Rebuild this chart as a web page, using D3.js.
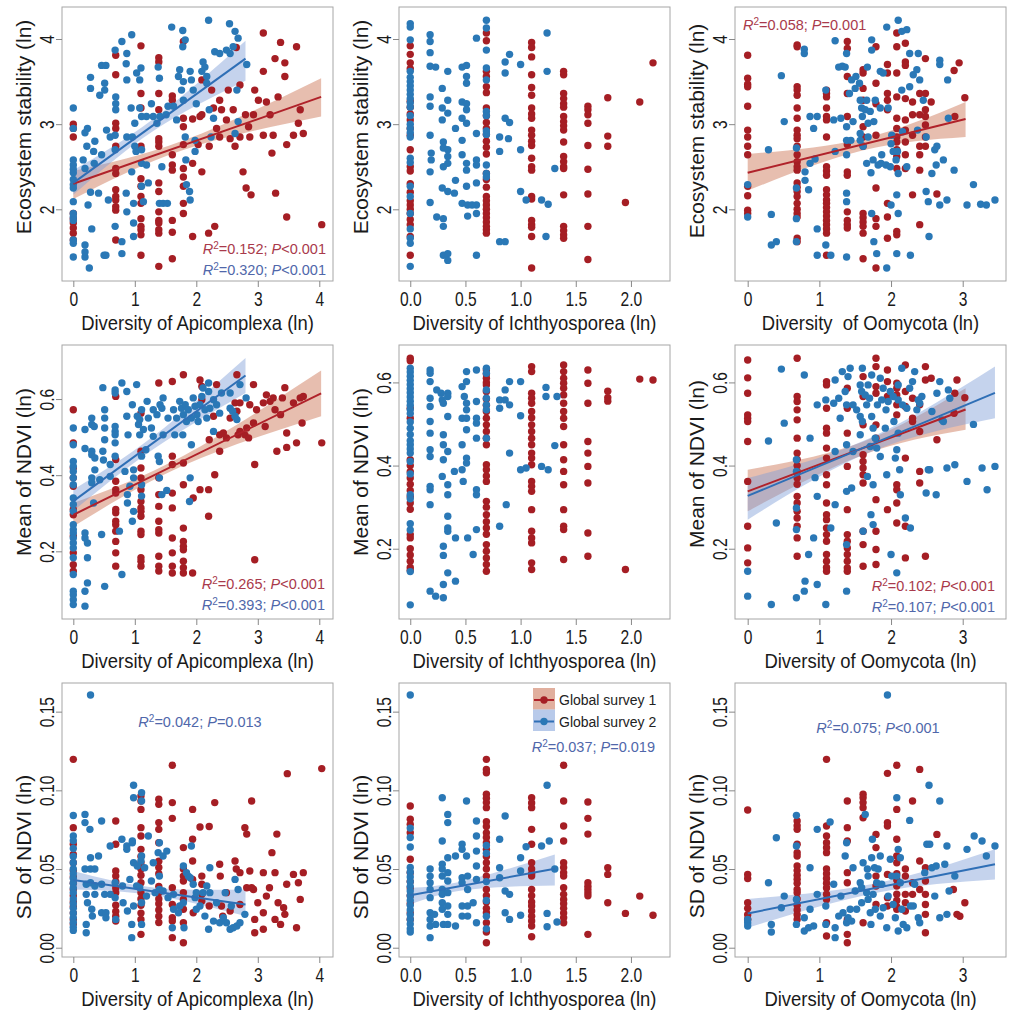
<!DOCTYPE html>
<html>
<head>
<meta charset="utf-8">
<script src="https://cdn.jsdelivr.net/npm/d3@7"></script>
<style>
  body { margin: 0; background: #fff; }
  text { font-family: "Liberation Sans", Arial, sans-serif; }
</style>
</head>
<body>
<svg id="chart" width="1024" height="1014"></svg>
<script>
// ---- values ----
// gs1 = Global survey 1 (red), gs2 = Global survey 2 (blue)
// entries are [x, y] or [x, [y, y, ...]] for points stacked at one x

const seriesNames = ['Global survey 1', 'Global survey 2'];

const xTicksApi = [0, 1, 2, 3, 4];
const xTicksIch = [0, 0.5, 1, 1.5, 2];
const xTicksOom = [0, 1, 2, 3];
const yTicksStab = [2, 3, 4];
const yTicksMean = [0.2, 0.4, 0.6];
const yTicksSd = [0, 0.05, 0.1, 0.15];

const xTitles = ['Diversity of Apicomplexa (ln)', 'Diversity of Ichthyosporea (ln)', 'Diversity\u00a0 of Oomycota (ln)'];
const xTitlesLower = ['Diversity of Apicomplexa (ln)', 'Diversity of Ichthyosporea (ln)', 'Diversity of Oomycota (ln)'];
const yTitles = ['Ecosystem stability (ln)', 'Mean of NDVI (ln)', 'SD of NDVI (ln)'];

// row 1: ecosystem stability
const gs1_stab_api = [[0,[3.0,2.95,2.85,1.95,1.89,1.84,1.78,1.72,1.64]],
  [0.69,[3.81,3.58,3.01,2.95,2.74,2.48,2.42,2.23,2.15,2.11,2.03,1.99,1.64]],
  [1.1,[3.92,3.36,3.19,2.74,2.36,2.27,2.15,2.07,1.89,1.8,1.76,1.7,1.46]],
  [1.39,[3.78,3.73,3.36,3.17,2.83,2.79,2.74,2.31,2.21,1.97,1.87,1.84,1.76,1.72,1.33]],
  [1.61,[3.33,3.28,2.64,2.52,2.46,1.87,1.73,1.42]],
  [1.79,[3.97,3.07,2.97,2.76,2.48,2.38,2.27,2.07,1.95]],
  [1.94,3.06],[1.94,2.54],[1.94,1.68],[2.03,2.76],[2.06,3.09],[2.09,2.44],[2.09,3.52],[2.2,1.72],[2.21,2.74],[2.09,3.11],
  [2.25,3.4],[2.28,3.19],[2.3,1.8],[2.33,2.95],[2.38,3.28],[2.38,2.85],[2.41,3.17],[2.49,3.05],[2.52,3.4],[2.55,2.83],
  [2.6,3.17],[2.63,2.74],[2.65,3.9],[2.71,3.46],[2.71,2.85],[2.76,2.44],[2.8,3.11],[2.81,2.25],[2.85,2.97],[2.87,2.85],
  [2.89,2.17],[2.93,3.11],[2.95,3.4],[3.01,3.28],[3.09,4.07],[3.09,3.62],[3.09,2.87],[3.14,3.26],[3.2,3.11],[3.23,2.66],
  [3.25,2.87],[3.28,3.77],[3.29,2.19],[3.33,3.32],[3.37,3.96],[3.44,3.72],[3.44,3.56],[3.47,2.76],[3.47,1.91],[3.58,2.87],
  [3.63,3.91],[3.66,3.01],[3.69,3.17],[3.74,2.89],[4.04,1.82]];
const gs2_stab_api = [[0,[3.19,2.95,2.58,2.52,2.47,2.43,2.35,2.29,2.25,2.09,1.95,1.91,1.87,1.64,1.6,1.44]],
  [0.19,1.44],[0.19,1.5],[0.19,1.58],[0.16,2.58],[0.19,2.48],[0.22,2.74],[0.23,2.95],[0.19,2.9],[0.24,2.05],[0.26,1.31],
  [0.3,1.77],[0.28,2.2],[0.28,3.42],[0.28,3.55],[0.33,2.68],[0.34,2.54],[0.35,2.8],[0.41,2.19],[0.43,3.34],[0.46,2.64],
  [0.46,3.69],[0.53,3.69],[0.51,3.48],[0.51,3.4],[0.5,1.46],[0.53,1.46],[0.54,2.93],[0.57,2.11],[0.6,2.85],[0.68,3.87],
  [0.69,3.32],[0.69,3.24],[0.69,3.17],[0.68,2.7],[0.68,2.87],[0.68,1.8],[0.79,3.97],[0.79,1.62],[0.79,1.48],[0.86,3.71],
  [0.87,3.83],[0.87,2.85],[0.86,2.19],[0.87,1.97],[0.87,3.52],[0.94,3.19],[0.95,4.05],[0.96,2.85],[0.95,2.44],[0.98,2.07],
  [0.98,1.84],[0.98,1.68],[1.0,3.01],[1.0,2.74],[1.02,2.68],[1.03,3.6],[1.08,3.19],[1.08,3.52],[1.1,3.66],[1.11,3.09],
  [1.11,2.7],[1.11,2.54],[1.11,2.27],[1.14,2.09],[1.19,3.09],[1.22,2.31],[1.19,2.52],[1.27,3.24],[1.3,3.09],[1.36,3.01],
  [1.38,3.67],[1.4,3.54],[1.4,2.07],[1.41,3.09],[1.44,2.5],[1.46,2.07],[1.51,3.11],[1.53,2.07],[1.54,3.21],[1.6,4.14],
  [1.63,3.21],[1.68,3.05],[1.71,3.56],[1.73,3.64],[1.78,4.1],[1.78,3.91],[1.82,3.99],[1.79,3.5],[1.76,3.4],[1.79,3.28],
  [1.82,2.85],[1.83,2.58],[1.84,2.29],[1.89,2.21],[1.9,2.11],[1.9,3.62],[1.92,3.52],[1.95,3.4],[1.98,2.68],[1.98,2.81],
  [2.0,3.24],[2.09,3.62],[2.11,3.73],[2.14,3.67],[2.17,3.56],[2.17,3.48],[2.2,4.22],[2.21,3.17],[2.28,3.07],[2.3,3.85],
  [2.38,3.83],[2.49,3.87],[2.55,3.83],[2.54,4.18],[2.6,3.91],[2.63,4.09],[2.68,4.01],[2.66,3.4],[2.63,2.89],[2.68,3.03],
  [2.82,3.7],[2.24,2.85]];

const gs1_stab_ich = [[0,[3.92,3.82,3.72,3.65,3.27,3.2,3.12,3.05,2.95,2.87,2.7,2.5,2.45,2.3,2.2,2.1,2.05,2.0,1.95,1.88,1.82,1.68,1.46]],
  [0.69,[4.07,3.98,3.62,3.56,3.44,3.37,3.19,3.1,3.02,2.95,2.88,2.8,2.73,2.65,2.42,2.35,2.26,2.15,2.1,2.05,2.0,1.95,1.9,1.85,1.8,1.76,1.72]],
  [1.1,[3.96,3.9,3.79,3.58,3.43,3.34,3.19,3.12,3.07,2.93,2.87,2.8,2.75,2.6,2.5,2.46,2.15,2.12,1.87,1.82,1.79,1.68,1.31]],
  [1.39,[3.62,3.58,3.36,3.3,3.24,3.2,3.09,3.03,2.98,2.93,2.79,2.62,2.56,2.5,2.48,2.17,1.8,1.75,1.7,1.66]],
  [1.61,[3.21,3.17,3.11,3.01,2.75,2.47,2.18,1.8,1.41]],
  [1.79,[3.31,2.86,2.74]],[1.95,2.08],[2.08,3.26],[2.2,3.72]];
const gs2_stab_ich = [[0,[4.18,4.14,3.99,3.62,3.55,3.5,3.45,3.4,3.35,3.3,3.25,3.2,3.1,3.0,2.95,2.9,2.85,2.6,2.55,2.27,2.15,1.95,1.77,1.66,1.6,1.33]],
  [0.69,[4.22,4.13,3.87,3.66,3.52,3.15,3.1,2.92,2.88,2.52,2.42,2.38]],
  [0.18,4.05],[0.18,3.97],[0.18,3.84],[0.18,3.68],[0.23,3.67],[0.18,3.32],[0.18,3.21],[0.18,2.87],[0.19,2.66],[0.19,2.58],
  [0.18,2.44],[0.18,2.08],[0.24,1.91],[0.29,3.42],[0.29,3.19],[0.29,3.05],[0.3,2.79],[0.3,2.72],[0.3,2.5],[0.29,2.25],
  [0.3,1.89],[0.3,1.8],[0.3,1.46],[0.34,1.48],[0.34,3.62],[0.34,3.28],[0.34,3.13],[0.34,2.7],[0.34,2.62],[0.34,2.54],
  [0.34,2.21],[0.34,1.4],[0.4,2.19],[0.41,2.95],[0.41,2.34],[0.47,3.67],[0.47,3.26],[0.47,3.07],[0.47,2.81],[0.47,2.64],
  [0.47,2.07],[0.51,3.69],[0.51,3.56],[0.51,3.48],[0.51,3.24],[0.51,3.17],[0.51,3.01],[0.51,2.54],[0.51,2.46],[0.51,2.27],
  [0.52,2.05],[0.52,1.92],[0.6,4.01],[0.6,2.89],[0.6,2.58],[0.6,2.52],[0.6,2.31],[0.6,2.05],[0.6,1.95],[0.6,1.46],
  [0.56,2.05],[0.81,2.85],[0.81,2.68],[0.81,1.62],[0.86,1.62],[0.86,3.73],[0.86,3.6],[0.86,3.07],[0.9,3.82],[0.9,3.02],
  [0.89,2.83],[1.0,3.7],[1.0,2.7],[1.0,2.21],[1.05,2.11],[1.19,2.11],[1.24,3.62],[1.24,4.07],[1.25,2.06],[1.23,1.68],[1.31,2.48]];

const gs1_stab_oom = [[0,[3.81,3.54,3.47,3.44,3.21,2.93,2.85,2.74,2.64,2.27,2.16,1.99,1.95]],
  [0.69,[3.93,3.91,3.44,3.4,3.34,3.19,3.07,2.93,2.87,2.83,2.74,2.64,2.56,2.5,2.46,2.31,2.26,2.21,2.15,2.07,2.0,1.95,1.91,1.66,1.62]],
  [1.1,[3.4,3.36,3.32,3.19,3.09,3.05,2.85,2.5,2.45,2.4,2.23,2.17,2.11,2.07,2.02,1.97,1.92,1.87,1.82,1.77,1.72,1.46]],
  [1.39,[3.97,3.89,3.56,3.36,3.09,2.76,2.44,2.4,1.97,1.87,1.82,1.78]],
  [1.61,[3.64,3.6,3.42,3.28,2.97,2.85,2.74,1.95,1.9,1.85,1.8,1.72,1.42]],
  [1.79,[3.91,3.48,3.24,2.87,2.25,1.89,1.8,1.31]],
  [1.95,[3.7,3.6,3.36,3.28,3.17,2.07,1.91,1.66]],
  [2.08,[4.07,3.91,3.6,3.32,3.07,2.95,2.85,2.79,2.7,2.62,2.48,1.74,1.7]],
  [2.2,[3.95,3.73,3.69,3.3,3.05,2.93,2.79,2.64,2.48]],
  [2.3,[3.26,3.11,2.87,2.17]],
  [2.4,[3.36,3.11,2.74,2.64,2.46,1.82]],
  [2.48,[3.77,3.36,3.17,3.09,2.99,2.85,2.74]],
  [2.56,3.26],[2.64,2.18],[2.88,3.63],[2.95,3.72],[2.89,3.09],[3.03,3.31]];
const gs2_stab_oom = [[0,2.29],[0,1.91],[0.29,2.7],[0.33,1.94],[0.33,1.58],[0.4,1.62],[0.47,3.57],[0.51,3.03],[0.68,2.72],[0.68,2.25],
  [0.68,1.89],[0.68,1.62],[0.79,3.88],[0.79,3.83],[0.8,2.44],[0.8,2.34],[0.85,2.23],[0.87,3.09],[0.87,2.54],[0.92,2.95],
  [0.94,2.59],[0.97,1.46],[0.97,1.77],[0.97,3.09],[1.09,3.4],[1.09,1.58],[1.16,1.46],[1.2,3.05],[1.22,3.98],[1.22,2.68],
  [1.27,3.67],[1.3,3.07],[1.32,3.68],[1.36,3.67],[1.38,3.83],[1.38,2.97],[1.38,2.81],[1.38,2.64],[1.38,2.19],[1.38,2.09],
  [1.38,1.44],[1.42,3.36],[1.44,2.81],[1.45,3.52],[1.47,3.03],[1.5,3.42],[1.51,3.56],[1.56,3.48],[1.57,3.28],[1.57,2.89],
  [1.57,2.81],[1.59,3.19],[1.6,3.09],[1.61,2.74],[1.64,3.17],[1.66,3.28],[1.66,2.54],[1.67,3.67],[1.68,3.01],[1.68,2.85],
  [1.71,3.15],[1.72,2.43],[1.73,3.99],[1.73,3.87],[1.73,1.95],[1.75,2.58],[1.76,3.03],[1.76,1.62],[1.78,3.28],[1.8,1.48],
  [1.82,2.52],[1.85,3.19],[1.85,3.62],[1.86,2.54],[1.89,3.6],[1.87,2.64],[1.93,2.52],[1.94,4.14],[1.94,1.31],[1.96,3.19],
  [1.99,2.5],[2.0,2.77],[2.0,2.05],[2.01,2.87],[2.03,2.68],[2.07,2.58],[2.08,2.17],[2.1,4.22],[2.09,2.68],[2.1,2.42],
  [2.1,1.95],[2.08,1.48],[2.15,4.09],[2.16,2.91],[2.15,3.4],[2.22,4.11],[2.22,2.5],[2.26,3.44],[2.26,3.83],[2.27,1.46],
  [2.31,3.58],[2.36,3.64],[2.38,3.83],[2.37,2.93],[2.4,3.52],[2.45,3.28],[2.49,2.85],[2.49,2.21],[2.52,2.09],[2.53,1.68],
  [2.57,2.42],[2.61,2.7],[2.63,2.52],[2.64,2.74],[2.68,2.05],[2.68,3.75],[2.68,3.7],[2.73,2.58],[2.78,2.11],[2.79,3.52],
  [2.8,3.07],[2.88,2.46],[3.06,2.05],[3.15,2.29],[3.25,2.06],[3.33,2.05],[3.45,2.11]];

// row 2: mean of NDVI
const gs1_mean_api = [[0,[0.572,0.485,0.419,0.393,0.371,0.31,0.296,0.24,0.196,0.165,0.148]],
  [0.69,[0.607,0.441,0.384,0.362,0.353,0.31,0.301,0.279,0.27,0.253,0.226,0.196,0.161]],
  [1.1,[0.563,0.463,0.419,0.393,0.362,0.331,0.314,0.305,0.292,0.253,0.244,0.183,0.174,0.161]],
  [1.39,[0.642,0.393,0.349,0.318,0.279,0.257,0.248,0.187,0.161,0.148]],
  [1.61,[0.646,0.45,0.428,0.353,0.314,0.235,0.196,0.161,0.143]],
  [1.79,[0.664,0.432,0.375,0.261,0.226,0.213,0.204,0.174,0.157,0.143]],
  [1.94,0.143],[1.95,0.34],[2.06,0.65],[2.09,0.633],[2.09,0.598],[2.06,0.362],[2.2,0.362],[2.2,0.292],[2.21,0.493],[2.28,0.555],
  [2.3,0.401],[2.33,0.638],[2.38,0.506],[2.38,0.463],[2.44,0.511],[2.49,0.498],[2.55,0.55],[2.63,0.59],[2.66,0.568],[2.68,0.506],
  [2.71,0.515],[2.71,0.59],[2.79,0.506],[2.82,0.524],[2.85,0.498],[2.87,0.585],[2.93,0.537],[2.93,0.638],[2.95,0.428],[2.95,0.178],
  [2.98,0.572],[3.12,0.528],[3.09,0.59],[3.14,0.611],[3.2,0.594],[3.25,0.603],[3.28,0.572],[3.31,0.463],[3.37,0.559],[3.4,0.603],
  [3.44,0.63],[3.47,0.511],[3.47,0.473],[3.58,0.59],[3.63,0.485],[3.69,0.603],[3.72,0.537],[3.74,0.607],[4.04,0.485],[2.66,0.664]];
const gs2_mean_api = [[0,[0.524,0.48,0.436,0.423,0.41,0.393,0.375,0.34,0.323,0.305,0.27,0.257,0.248,0.235,0.222,0.209,0.183,0.139,0.095,0.086,0.073,0.06]],
  [0.19,0.52],[0.19,0.47],[0.19,0.248],[0.19,0.235],[0.19,0.095],[0.19,0.056],[0.23,0.117],[0.23,0.222],[0.23,0.183],[0.3,0.55],
  [0.3,0.533],[0.3,0.463],[0.3,0.454],[0.3,0.393],[0.3,0.38],[0.33,0.327],[0.34,0.528],[0.35,0.445],[0.35,0.414],[0.43,0.388],
  [0.46,0.244],[0.48,0.63],[0.48,0.463],[0.49,0.44],[0.51,0.572],[0.51,0.55],[0.51,0.524],[0.51,0.493],[0.51,0.108],[0.6,0.428],
  [0.6,0.397],[0.68,0.624],[0.68,0.616],[0.68,0.528],[0.68,0.515],[0.68,0.506],[0.68,0.485],[0.68,0.45],[0.75,0.253],[0.79,0.642],
  [0.79,0.139],[0.84,0.41],[0.87,0.555],[0.87,0.62],[0.88,0.349],[0.88,0.327],[0.89,0.506],[0.92,0.371],[0.96,0.585],[0.98,0.414],
  [0.98,0.393],[0.98,0.305],[0.96,0.279],[1.03,0.638],[1.04,0.555],[1.06,0.533],[1.08,0.546],[1.08,0.506],[1.11,0.572],[1.11,0.45],
  [1.11,0.375],[1.11,0.345],[1.14,0.52],[1.18,0.467],[1.2,0.594],[1.22,0.55],[1.27,0.524],[1.3,0.572],[1.3,0.502],[1.36,0.559],
  [1.38,0.45],[1.4,0.436],[1.4,0.393],[1.41,0.585],[1.44,0.349],[1.44,0.576],[1.46,0.603],[1.46,0.506],[1.52,0.36],[1.54,0.55],
  [1.63,0.572],[1.65,0.506],[1.68,0.55],[1.73,0.594],[1.76,0.576],[1.78,0.506],[1.79,0.559],[1.82,0.585],[1.84,0.541],[1.87,0.572],
  [1.89,0.331],[1.9,0.393],[1.92,0.48],[1.92,0.55],[1.95,0.603],[1.98,0.581],[2.01,0.559],[2.03,0.541],[2.06,0.585],[2.09,0.607],
  [2.11,0.629],[2.14,0.572],[2.17,0.55],[2.2,0.62],[2.2,0.642],[2.22,0.576],[2.28,0.515],[2.28,0.598],[2.33,0.585],[2.38,0.563],
  [2.41,0.616],[2.55,0.616],[2.55,0.576],[2.59,0.568],[2.63,0.555],[2.66,0.546],[2.71,0.638],[2.81,0.603]];

const gs1_mean_ich = [[0,[0.658,0.652,0.538,0.514,0.414,0.4,0.385,0.37,0.355,0.34,0.325,0.31,0.295,0.234,0.226,0.2,0.185,0.17,0.155,0.148]],
  [0.69,[0.63,0.62,0.61,0.6,0.594,0.578,0.56,0.545,0.53,0.514,0.498,0.482,0.466,0.45,0.402,0.39,0.375,0.362,0.314,0.3,0.282,0.265,0.25,0.235,0.21,0.194,0.178,0.162,0.146]],
  [1.1,[0.638,0.626,0.574,0.562,0.55,0.53,0.515,0.498,0.482,0.466,0.45,0.43,0.418,0.402,0.362,0.35,0.338,0.294,0.242,0.226,0.214,0.166,0.15]],
  [1.39,[0.642,0.626,0.61,0.598,0.586,0.57,0.55,0.53,0.514,0.494,0.45,0.414,0.386,0.354,0.294,0.254,0.246,0.174]],
  [1.61,[0.63,0.598,0.55,0.458,0.43,0.398,0.358,0.238,0.182]],
  [1.79,[0.579,0.563,0.555]],[1.95,0.15],[2.08,0.608],[2.2,0.606]];
const gs2_mean_ich = [[0,[0.634,0.625,0.615,0.605,0.595,0.585,0.575,0.565,0.555,0.545,0.535,0.525,0.505,0.49,0.475,0.46,0.45,0.44,0.43,0.41,0.38,0.33,0.32,0.26,0.245,0.145,0.065]],
  [0.18,0.63],[0.18,0.622],[0.18,0.602],[0.18,0.562],[0.18,0.542],[0.18,0.506],[0.18,0.478],[0.18,0.438],[0.18,0.422],[0.18,0.35],
  [0.18,0.342],[0.18,0.306],[0.18,0.098],[0.23,0.086],[0.24,0.582],[0.28,0.574],[0.29,0.558],[0.3,0.55],[0.3,0.474],[0.3,0.45],
  [0.3,0.414],[0.29,0.374],[0.3,0.206],[0.3,0.184],[0.3,0.114],[0.3,0.082],[0.34,0.574],[0.34,0.566],[0.34,0.518],[0.34,0.434],
  [0.34,0.354],[0.34,0.33],[0.34,0.278],[0.34,0.25],[0.34,0.242],[0.34,0.142],[0.4,0.386],[0.41,0.226],[0.41,0.122],[0.47,0.59],
  [0.47,0.514],[0.47,0.45],[0.47,0.39],[0.48,0.362],[0.49,0.566],[0.51,0.626],[0.51,0.602],[0.51,0.55],[0.51,0.534],[0.51,0.514],
  [0.51,0.486],[0.51,0.418],[0.51,0.406],[0.52,0.226],[0.57,0.186],[0.6,0.514],[0.6,0.502],[0.6,0.554],[0.6,0.466],[0.6,0.63],
  [0.6,0.342],[0.6,0.33],[0.6,0.246],[0.69,0.634],[0.69,0.622],[0.69,0.582],[0.69,0.562],[0.69,0.546],[0.69,0.534],[0.69,0.466],
  [0.81,0.558],[0.81,0.538],[0.81,0.254],[0.86,0.558],[0.86,0.582],[0.87,0.306],[0.9,0.602],[0.9,0.546],[0.9,0.43],[1.0,0.602],
  [1.0,0.52],[1.0,0.39],[1.05,0.394],[1.19,0.398],[1.23,0.588],[1.23,0.566],[1.25,0.39],[1.31,0.448],[1.33,0.566]];

const gs1_mean_oom = [[0,[0.654,0.611,0.574,0.522,0.514,0.506,0.458,0.362,0.254,0.202,0.166]],
  [0.69,[0.658,0.566,0.554,0.534,0.51,0.466,0.43,0.415,0.4,0.386,0.37,0.355,0.326,0.31,0.29,0.274,0.254,0.226,0.182]],
  [1.1,[0.602,0.594,0.538,0.49,0.478,0.442,0.418,0.378,0.354,0.31,0.282,0.27,0.25,0.234,0.218,0.186,0.17,0.155,0.146]],
  [1.39,[0.586,0.538,0.478,0.398,0.294,0.234,0.218,0.202,0.186,0.17,0.154,0.146]],
  [1.61,[0.614,0.566,0.498,0.426,0.41,0.394,0.378,0.358,0.242,0.21,0.158]],
  [1.79,[0.658,0.638,0.59,0.574,0.498,0.466,0.318,0.242,0.198,0.162]],
  [1.95,[0.63,0.602,0.566,0.294]],
  [2.08,[0.598,0.586,0.57,0.546,0.522,0.354,0.342,0.31,0.262]],
  [2.2,[0.642,0.578,0.542,0.418,0.254,0.178]],
  [2.3,[0.562,0.514,0.506]],
  [2.4,[0.546,0.482,0.386,0.358]],
  [2.48,[0.638,0.606,0.182]],
  [2.56,0.61],[2.64,0.462],[2.88,0.526],[2.92,0.606],[3.03,0.563],[2.89,0.574]];
const gs2_mean_oom = [[0,0.146],[0,0.086],[0.29,0.459],[0.33,0.066],[0.4,0.262],[0.47,0.632],[0.51,0.502],[0.68,0.386],[0.68,0.414],[0.68,0.246],
  [0.68,0.298],[0.68,0.082],[0.79,0.618],[0.8,0.122],[0.79,0.098],[0.85,0.186],[0.87,0.466],[0.92,0.226],[0.94,0.371],[0.97,0.326],
  [0.97,0.114],[0.97,0.546],[1.09,0.066],[1.09,0.558],[1.16,0.25],[1.2,0.55],[1.22,0.306],[1.22,0.606],[1.22,0.434],[1.27,0.562],
  [1.29,0.514],[1.32,0.626],[1.36,0.578],[1.38,0.546],[1.38,0.45],[1.38,0.338],[1.38,0.21],[1.38,0.098],[1.4,0.614],[1.43,0.634],
  [1.45,0.346],[1.47,0.546],[1.47,0.434],[1.52,0.534],[1.57,0.594],[1.57,0.518],[1.57,0.474],[1.59,0.578],[1.6,0.634],[1.6,0.506],
  [1.61,0.242],[1.64,0.57],[1.66,0.546],[1.67,0.374],[1.68,0.594],[1.7,0.562],[1.71,0.446],[1.72,0.282],[1.73,0.618],[1.73,0.518],
  [1.75,0.49],[1.75,0.354],[1.75,0.258],[1.78,0.466],[1.8,0.442],[1.81,0.546],[1.85,0.61],[1.85,0.422],[1.87,0.558],[1.89,0.586],
  [1.92,0.49],[1.93,0.534],[1.94,0.378],[1.96,0.554],[1.99,0.578],[2.0,0.186],[2.03,0.566],[2.04,0.506],[2.06,0.418],[2.08,0.438],
  [2.08,0.142],[2.1,0.594],[2.1,0.558],[2.1,0.478],[2.12,0.39],[2.13,0.33],[2.15,0.634],[2.16,0.546],[2.2,0.274],[2.22,0.538],
  [2.26,0.586],[2.27,0.25],[2.3,0.602],[2.33,0.626],[2.36,0.534],[2.38,0.558],[2.4,0.55],[2.43,0.566],[2.49,0.334],[2.52,0.39],
  [2.54,0.39],[2.57,0.53],[2.64,0.574],[2.63,0.33],[2.68,0.602],[2.71,0.51],[2.73,0.506],[2.78,0.394],[2.8,0.582],[2.82,0.562],
  [2.89,0.402],[3.06,0.362],[3.15,0.499],[3.27,0.394],[3.34,0.342],[3.45,0.398]];

// row 3: SD of NDVI
const gs1_sd_api = [[0,[0.1197,0.0763,0.0657,0.0593,0.054,0.049,0.045,0.041,0.037,0.033,0.029,0.026,0.022,0.018,0.015]],
  [0.69,[0.0805,0.0657,0.0487,0.0455,0.042,0.038,0.035,0.027,0.023,0.02,0.017]],
  [1.1,[0.0964,0.0932,0.0879,0.0763,0.071,0.0625,0.058,0.054,0.05,0.046,0.0413,0.035,0.031,0.027,0.022,0.018,0.0085]],
  [1.39,[0.0943,0.0911,0.0795,0.0752,0.0667,0.055,0.051,0.047,0.039,0.035,0.031,0.028,0.024,0.02,0.016]],
  [1.61,[0.1159,0.0922,0.0822,0.0381,0.0275,0.019,0.017,0.0064]],
  [1.79,[0.0636,0.05,0.0455,0.0424,0.035,0.0307,0.0244,0.0159,0.0032]],
  [1.94,0.0879],[1.94,0.0689],[1.94,0.0551],[1.94,0.0434],[1.95,0.0222],[2.09,0.0455],[2.09,0.0403],[2.09,0.0339],[2.09,0.0297],
  [2.06,0.0767],[2.21,0.077],[2.21,0.0265],[2.3,0.0922],[2.38,0.053],[2.39,0.0455],[2.41,0.0265],[2.43,0.0201],[2.49,0.035],
  [2.55,0.0233],[2.63,0.0551],[2.65,0.05],[2.71,0.0477],[2.71,0.0275],[2.79,0.0763],[2.82,0.0722],[2.82,0.0381],[2.9,0.0932],
  [2.87,0.0487],[2.9,0.0381],[2.93,0.037],[2.95,0.018],[2.95,0.0095],[3.0,0.0286],[3.09,0.0477],[3.09,0.0222],[3.09,0.0117],
  [3.14,0.0328],[3.19,0.0381],[3.23,0.0604],[3.28,0.0477],[3.28,0.018],[3.31,0.0722],[3.33,0.0286],[3.37,0.0148],[3.42,0.0254],
  [3.44,0.0212],[3.47,0.0403],[3.48,0.1106],[3.58,0.0466],[3.63,0.0127],[3.66,0.0413],[3.69,0.0307],[3.74,0.0477],[4.04,0.1138]];
const gs2_sd_api = [[0,[0.084,0.071,0.068,0.063,0.058,0.054,0.05,0.047,0.044,0.041,0.038,0.035,0.031,0.028,0.025,0.022,0.019,0.016,0.013,0.011]],
  [0.28,0.1606],[0.19,0.0847],[0.19,0.0795],[0.19,0.05],[0.21,0.0403],[0.21,0.0339],[0.21,0.0148],[0.21,0.0095],[0.23,0.0286],
  [0.27,0.0752],[0.28,0.0572],[0.28,0.05],[0.28,0.0413],[0.3,0.0244],[0.31,0.0201],[0.35,0.05],[0.35,0.0392],[0.35,0.0339],
  [0.41,0.0583],[0.46,0.0805],[0.46,0.0403],[0.46,0.0222],[0.51,0.0339],[0.53,0.0222],[0.53,0.019],[0.6,0.0646],[0.6,0.0339],
  [0.68,0.0318],[0.68,0.0413],[0.69,0.018],[0.79,0.0689],[0.8,0.0392],[0.81,0.0286],[0.87,0.0646],[0.87,0.0625],[0.88,0.0233],
  [0.92,0.0434],[0.95,0.0148],[0.95,0.0064],[0.96,0.0667],[0.96,0.0678],[0.98,0.1032],[0.98,0.0953],[0.98,0.054],[0.98,0.0265],
  [1.03,0.0392],[1.04,0.0519],[1.08,0.0381],[1.1,0.0551],[1.11,0.0985],[1.11,0.0932],[1.11,0.0583],[1.11,0.0286],[1.11,0.0148],
  [1.16,0.0508],[1.22,0.071],[1.19,0.0328],[1.27,0.0424],[1.3,0.054],[1.33,0.035],[1.38,0.0604],[1.4,0.0667],[1.4,0.0455],
  [1.4,0.037],[1.46,0.0583],[1.46,0.036],[1.52,0.0614],[1.54,0.0318],[1.63,0.0339],[1.63,0.0244],[1.61,0.0127],[1.71,0.0222],
  [1.73,0.0265],[1.79,0.0519],[1.79,0.0286],[1.8,0.0127],[1.84,0.0477],[1.87,0.0455],[1.9,0.0445],[1.92,0.0646],[1.95,0.0403],
  [1.98,0.0318],[2.0,0.0244],[2.0,0.035],[2.06,0.0265],[2.11,0.035],[2.14,0.0201],[2.17,0.0392],[2.2,0.0117],[2.22,0.0508],
  [2.22,0.035],[2.28,0.0169],[2.33,0.0286],[2.38,0.0159],[2.44,0.019],[2.47,0.035],[2.49,0.0159],[2.55,0.0117],[2.57,0.0265],
  [2.6,0.0127],[2.63,0.0434],[2.66,0.0138],[2.68,0.037],[2.71,0.0159],[2.79,0.0212]];

const gs1_sd_ich = [[0,[0.09,0.0816,0.0784,0.0731,0.0562,0.0477,0.042,0.038,0.033,0.028,0.022,0.018]],
  [0.69,[0.1197,0.1133,0.1112,0.0975,0.095,0.0922,0.089,0.08,0.077,0.073,0.07,0.0667,0.0625,0.058,0.054,0.05,0.0455,0.037,0.033,0.029,0.025,0.0222,0.0159,0.01,0.0032]],
  [1.1,[0.0953,0.092,0.089,0.0752,0.0657,0.054,0.05,0.047,0.0455,0.037,0.033,0.029,0.0265,0.0233,0.02,0.017,0.0138,0.007]],
  [1.39,[0.1159,0.0932,0.0773,0.0678,0.054,0.051,0.0477,0.0455,0.0381,0.0339,0.0307,0.028,0.025,0.022,0.019,0.0159]],
  [1.61,[0.0926,0.0822,0.0722,0.0413,0.039,0.037,0.035,0.033,0.0085]],
  [1.79,[0.0508,0.0466,0.0286]],[1.95,0.0218],[2.08,0.0328],[2.2,0.0206]];
const gs2_sd_ich = [[0,[0.1606,0.076,0.07,0.064,0.051,0.048,0.045,0.042,0.039,0.036,0.033,0.03,0.027,0.024,0.021,0.018,0.015,0.012,0.01]],
  [0.18,0.05],[0.18,0.0455],[0.18,0.0413],[0.18,0.037],[0.18,0.0318],[0.18,0.0222],[0.18,0.018],[0.18,0.0138],[0.18,0.0064],
  [0.22,0.0212],[0.23,0.0148],[0.29,0.0953],[0.29,0.0678],[0.29,0.053],[0.29,0.05],[0.29,0.0455],[0.29,0.037],[0.29,0.0339],
  [0.29,0.0286],[0.29,0.0244],[0.3,0.0148],[0.34,0.0847],[0.34,0.0795],[0.34,0.0572],[0.34,0.0477],[0.34,0.0424],[0.34,0.035],
  [0.34,0.0265],[0.34,0.0212],[0.34,0.0148],[0.41,0.0583],[0.41,0.0138],[0.47,0.0657],[0.47,0.0625],[0.47,0.0445],[0.47,0.0413],
  [0.47,0.0265],[0.47,0.0201],[0.51,0.0932],[0.51,0.0583],[0.52,0.0455],[0.52,0.037],[0.52,0.0265],[0.52,0.0201],[0.57,0.0286],
  [0.6,0.0805],[0.6,0.071],[0.6,0.0614],[0.6,0.0519],[0.6,0.0434],[0.6,0.0159],[0.69,0.065],[0.69,0.06],[0.69,0.042],[0.69,0.03],
  [0.69,0.02],[0.69,0.012],[0.81,0.0689],[0.81,0.0508],[0.81,0.0445],[0.86,0.0837],[0.86,0.036],[0.86,0.0222],[0.9,0.0339],
  [0.9,0.018],[1.0,0.0572],[1.0,0.0487],[1.0,0.0206],[1.05,0.0642],[1.19,0.0646],[1.24,0.1032],[1.24,0.0218],[1.24,0.0133],
  [1.26,0.0678],[1.33,0.0163],[1.31,0.05]];

const gs1_sd_oom = [[0,[0.0875,0.0466,0.044,0.0286,0.025,0.021,0.018]],
  [0.69,[0.0805,0.0775,0.0752,0.0657,0.0604,0.0583,0.0519,0.049,0.046,0.0435,0.041,0.037,0.0349,0.031,0.027,0.024,0.021,0.018]],
  [1.1,[0.1197,0.0773,0.071,0.0667,0.0635,0.0604,0.05,0.047,0.044,0.041,0.038,0.034,0.0307,0.0159,0.0074]],
  [1.39,[0.0932,0.0763,0.0678,0.0477,0.0413,0.018,0.0085,0.0032]],
  [1.61,[0.0975,0.0953,0.0922,0.089,0.0826,0.0159]],
  [1.79,[0.072,0.0636,0.0455,0.0392,0.0275]],
  [1.95,[0.1108,0.0795,0.0773,0.0466,0.0318,0.0265]],
  [2.08,[0.1159,0.0879,0.0689,0.0583,0.054,0.047,0.043,0.0392,0.034,0.03,0.026,0.0244]],
  [2.2,[0.05,0.0455,0.0339,0.0286,0.0233]],
  [2.3,[0.0932,0.0413,0.0339]],
  [2.4,[0.1133,0.0551,0.037]],
  [2.48,[0.0508,0.0424,0.0339,0.0275,0.0212,0.0095]],
  [2.64,0.072],[2.87,0.037],[2.92,0.0212],[3.03,0.0286],[2.96,0.02]];
const gs2_sd_oom = [[0,[0.018,0.0159,0.0138]],
  [0.29,0.0413],[0.33,0.0148],[0.33,0.01],[0.4,0.0699],[0.47,0.0254],[0.51,0.0328],[0.68,0.0841],[0.68,0.0646],[0.68,0.0307],
  [0.68,0.0148],[0.79,0.019],[0.79,0.0106],[0.85,0.0127],[0.87,0.0508],[0.87,0.0244],[0.92,0.0138],[0.97,0.0339],[0.97,0.0752],
  [1.09,0.0265],[1.09,0.0148],[1.15,0.0799],[1.2,0.0403],[1.22,0.0064],[1.22,0.0127],[1.27,0.0201],[1.3,0.0328],[1.33,0.0222],
  [1.36,0.0583],[1.38,0.0159],[1.38,0.0667],[1.4,0.019],[1.43,0.0244],[1.45,0.0169],[1.47,0.0508],[1.5,0.036],[1.52,0.0244],
  [1.57,0.0413],[1.59,0.0381],[1.59,0.0286],[1.61,0.054],[1.64,0.0847],[1.66,0.035],[1.67,0.05],[1.68,0.0455],[1.68,0.0307],
  [1.71,0.0222],[1.72,0.0148],[1.73,0.0572],[1.74,0.0689],[1.75,0.0339],[1.77,0.0508],[1.78,0.0244],[1.8,0.0413],[1.82,0.05],
  [1.85,0.0583],[1.85,0.0201],[1.87,0.0403],[1.89,0.0254],[1.94,0.0127],[1.95,0.1606],[1.96,0.0328],[1.99,0.0562],[2.01,0.0455],
  [2.03,0.0275],[2.06,0.019],[2.08,0.0953],[2.08,0.0455],[2.1,0.0625],[2.1,0.0106],[2.13,0.0572],[2.13,0.0413],[2.15,0.0244],
  [2.17,0.0148],[2.22,0.0127],[2.26,0.0809],[2.27,0.0265],[2.31,0.0265],[2.33,0.0403],[2.38,0.019],[2.4,0.0159],[2.47,0.0477],
  [2.5,0.0657],[2.54,0.0657],[2.53,0.1032],[2.57,0.0508],[2.61,0.0328],[2.63,0.0519],[2.68,0.0932],[2.68,0.019],[2.75,0.053],
  [2.78,0.0646],[2.78,0.0212],[2.81,0.036],[2.89,0.0455],[3.06,0.0625],[3.16,0.071],[3.27,0.0678],[3.33,0.0583],[3.45,0.0646]];

// fitted lines [x, y] and confidence bands [x, lower, upper]
const fit_stab_api_gs1 = [[0, 2.30], [4.03, 3.32]];
const band_stab_api_gs1 = [[0, 2.12, 2.45], [1.8, 2.70, 2.81], [4.03, 3.09, 3.54]];
const fit_stab_api_gs2 = [[0, 2.31], [2.8, 3.77]];
const band_stab_api_gs2 = [[0, 2.17, 2.46], [1.3, 2.92, 3.06], [2.8, 3.51, 3.98]];
const fit_stab_oom_gs1 = [[0, 2.43], [3.04, 3.06]];
const band_stab_oom_gs1 = [[0, 2.22, 2.65], [1.6, 2.69, 2.83], [3.04, 2.85, 3.26]];
const fit_mean_api_gs1 = [[0, 0.296], [4.03, 0.615]];
const band_mean_api_gs1 = [[0, 0.265, 0.327], [1.8, 0.426, 0.452], [4.03, 0.555, 0.675]];
const fit_mean_api_gs2 = [[0, 0.332], [2.8, 0.662]];
const band_mean_api_gs2 = [[0, 0.306, 0.362], [1.3, 0.468, 0.502], [2.8, 0.616, 0.708]];
const fit_mean_oom_gs1 = [[0, 0.338], [3.04, 0.535]];
const band_mean_oom_gs1 = [[0, 0.29, 0.39], [1.6, 0.425, 0.457], [3.04, 0.486, 0.586]];
const fit_mean_oom_gs2 = [[0, 0.327], [3.45, 0.575]];
const band_mean_oom_gs2 = [[0, 0.27, 0.37], [1.7, 0.432, 0.466], [3.45, 0.514, 0.638]];
const fit_sd_api_gs2 = [[0, 0.043], [2.8, 0.0275]];
const band_sd_api_gs2 = [[0, 0.037, 0.0487], [1.3, 0.0333, 0.0383], [2.8, 0.0201, 0.037]];
const fit_sd_ich_gs2 = [[0, 0.0333], [1.31, 0.0502]];
const band_sd_ich_gs2 = [[0, 0.0275, 0.038], [0.5, 0.0367, 0.0427], [1.31, 0.0395, 0.0593]];
const fit_sd_oom_gs2 = [[0, 0.0218], [3.45, 0.053]];
const band_sd_oom_gs2 = [[0, 0.0127, 0.031], [1.8, 0.035, 0.041], [3.45, 0.0434, 0.0625]];

// R^2 / P labels: [series, R2, P]
const stats_stab_api = [['gs1', '0.152', '<0.001'], ['gs2', '0.320', '<0.001']];
const stats_stab_oom = [['gs1', '0.058', '=0.001']];
const stats_mean_api = [['gs1', '0.265', '<0.001'], ['gs2', '0.393', '<0.001']];
const stats_mean_oom = [['gs1', '0.102', '<0.001'], ['gs2', '0.107', '<0.001']];
const stats_sd_api = [['gs2', '0.042', '=0.013']];
const stats_sd_ich = [['gs2', '0.037', '=0.019']];
const stats_sd_oom = [['gs2', '0.075', '<0.001']];

// ---- drawing ----
const colors = {
  gs1: { pt: '#A51E24', line: '#B0222A', band: '#C96E4E', text: '#A93A4B' },
  gs2: { pt: '#2A78B6', line: '#2F6FB6', band: '#7E9ED8', text: '#5067AA' }
};
const colLeft = [62, 399, 735], rowTop = [7, 345, 683], W = 271, H = 274;
const xDomains = [[-0.184, 4.223], [-0.102, 2.354], [-0.177, 3.604]];
const xTickSets = [xTicksApi, xTicksIch, xTicksOom];
const xFormats = [d3.format('d'), d3.format('.1f'), d3.format('d')];
const yTickSets = [yTicksStab, yTicksMean, yTicksSd];
const yFormats = [d3.format('d'), d3.format('.1f'), d3.format('.2f')];
const tickFont = '20px', tickSqueeze = 0.78;   // tall, narrow tick numbers
const titleSqueeze = 0.9;

const panels = [
  { r: 0, c: 0, gs1: gs1_stab_api, gs2: gs2_stab_api, yd: [1.158, 4.376], yTitleAt: 120,
    fits: [['gs1', fit_stab_api_gs1, band_stab_api_gs1], ['gs2', fit_stab_api_gs2, band_stab_api_gs2]],
    stats: stats_stab_api, statPos: { x: 326, y: 254, anchor: 'end' } },
  { r: 0, c: 1, gs1: gs1_stab_ich, gs2: gs2_stab_ich, yd: [1.158, 4.376], yTitleAt: 120, fits: [] },
  { r: 0, c: 2, gs1: gs1_stab_oom, gs2: gs2_stab_oom, yd: [1.158, 4.376], yTitleAt: 124,
    fits: [['gs1', fit_stab_oom_gs1, band_stab_oom_gs1]],
    stats: stats_stab_oom, statPos: { x: 743, y: 30, anchor: 'start' } },
  { r: 1, c: 0, gs1: gs1_mean_api, gs2: gs2_mean_api, yd: [0.0222, 0.742], yTitleAt: 127,
    fits: [['gs1', fit_mean_api_gs1, band_mean_api_gs1], ['gs2', fit_mean_api_gs2, band_mean_api_gs2]],
    stats: stats_mean_api, statPos: { x: 325, y: 589, anchor: 'end' } },
  { r: 1, c: 1, gs1: gs1_mean_ich, gs2: gs2_mean_ich, yd: [0.031, 0.690], yTitleAt: 127, fits: [] },
  { r: 1, c: 2, gs1: gs1_mean_oom, gs2: gs2_mean_oom, yd: [0.031, 0.690], yTitleAt: 119,
    fits: [['gs1', fit_mean_oom_gs1, band_mean_oom_gs1], ['gs2', fit_mean_oom_gs2, band_mean_oom_gs2]],
    stats: stats_mean_oom, statPos: { x: 995, y: 591, anchor: 'end' } },
  { r: 2, c: 0, gs1: gs1_sd_api, gs2: gs2_sd_api, yd: [-0.0059, 0.1682], yTitleAt: 164,
    fits: [['gs2', fit_sd_api_gs2, band_sd_api_gs2]],
    stats: stats_sd_api, statPos: { x: 200, y: 727, anchor: 'middle' } },
  { r: 2, c: 1, gs1: gs1_sd_ich, gs2: gs2_sd_ich, yd: [-0.0059, 0.1682], yTitleAt: 164,
    fits: [['gs2', fit_sd_ich_gs2, band_sd_ich_gs2]], legend: true,
    stats: stats_sd_ich, statPos: { x: 655, y: 752, anchor: 'end' } },
  { r: 2, c: 2, gs1: gs1_sd_oom, gs2: gs2_sd_oom, yd: [-0.0059, 0.1682], yTitleAt: 163,
    fits: [['gs2', fit_sd_oom_gs2, band_sd_oom_gs2]],
    stats: stats_sd_oom, statPos: { x: 878, y: 733, anchor: 'middle' } }
];

function expand(rows) {
  const out = [];
  rows.forEach(([x, y]) => (Array.isArray(y) ? y : [y]).forEach(v => out.push([x, v])));
  return out;
}

function statText(g, x, y, anchor, color, r2, p) {
  const t = g.append('text').attr('x', x).attr('y', y).attr('text-anchor', anchor)
    .attr('fill', color).style('font-size', '14.5px');
  t.append('tspan').style('font-style', 'italic').text('R');
  t.append('tspan').attr('dy', -5).style('font-size', '10px').text('2');
  t.append('tspan').attr('dy', 5).text('=' + r2 + ';\u00a0');
  t.append('tspan').style('font-style', 'italic').text('P');
  t.append('tspan').text(p);
}

const svg = d3.select('#chart');

panels.forEach(p => {
  const left = colLeft[p.c], top = rowTop[p.r];
  const x = d3.scaleLinear().domain(xDomains[p.c]).range([left, left + W]);
  const y = d3.scaleLinear().domain(p.yd).range([top + H, top]);
  const g = svg.append('g');

  // frame
  g.append('rect').attr('x', left).attr('y', top).attr('width', W).attr('height', H)
    .attr('fill', 'none').attr('stroke', '#A6A6A6').attr('stroke-width', 1);

  // axes
  const xa = g.append('g').attr('transform', `translate(0,${top + H})`)
    .call(d3.axisBottom(x).tickValues(xTickSets[p.c]).tickFormat(xFormats[p.c]).tickSize(6).tickPadding(5));
  const ya = g.append('g').attr('transform', `translate(${left},0)`)
    .call(d3.axisLeft(y).tickValues(yTickSets[p.r]).tickFormat(yFormats[p.r]).tickSize(6));
  [xa, ya].forEach(a => {
    a.select('.domain').remove();
    a.selectAll('line').attr('stroke', '#888');
    a.selectAll('text').attr('fill', '#1a1a1a').style('font-size', tickFont)
      .style('font-family', '"Liberation Sans", Arial, sans-serif');
  });
  xa.selectAll('text').attr('transform', `scale(${tickSqueeze},1)`);
  ya.selectAll('text').attr('transform', `rotate(-90) scale(${tickSqueeze},1)`).attr('x', 0).attr('y', -8)
    .attr('dy', 0).attr('text-anchor', 'middle');

  // titles
  g.append('text').attr('transform', `translate(${left + W / 2},${top + H + 49}) scale(${titleSqueeze},1)`)
    .attr('text-anchor', 'middle').attr('fill', '#1a1a1a').style('font-size', '20.5px')
    .text(p.r === 0 ? xTitles[p.c] : xTitlesLower[p.c]);
  g.append('text').attr('transform', `translate(${left - 31.5},${top + p.yTitleAt}) rotate(-90)`)
    .attr('text-anchor', 'middle').attr('fill', '#1a1a1a').style('font-size', '21px')
    .text(yTitles[p.r]);

  // bands
  p.fits.forEach(([s, , band]) => {
    g.append('path').datum(band)
      .attr('d', d3.area().x(d => x(d[0])).y0(d => y(d[1])).y1(d => y(d[2])).curve(d3.curveNatural))
      .attr('fill', colors[s].band).attr('fill-opacity', 0.45);
  });

  // points
  ['gs1', 'gs2'].forEach(s => {
    g.append('g').selectAll('circle').data(expand(p[s])).join('circle')
      .attr('cx', d => x(d[0])).attr('cy', d => y(d[1])).attr('r', 3.7)
      .attr('fill', colors[s].pt);
  });

  // fitted lines
  p.fits.forEach(([s, fit]) => {
    g.append('path').datum(fit)
      .attr('d', d3.line().x(d => x(d[0])).y(d => y(d[1])))
      .attr('fill', 'none').attr('stroke', colors[s].line).attr('stroke-width', 2);
  });

  // stats
  if (p.stats) {
    p.stats.forEach((st, i) => {
      statText(g, p.statPos.x, p.statPos.y + i * 21, p.statPos.anchor, colors[st[0]].text, st[1], st[2]);
    });
  }

  // legend
  if (p.legend) {
    const lx = left + W - 137, ly = top + 5;
    ['gs1', 'gs2'].forEach((s, i) => {
      const gy = ly + i * 21.5;
      g.append('rect').attr('x', lx).attr('y', gy).attr('width', 22).attr('height', 21.5)
        .attr('fill', colors[s].band).attr('fill-opacity', 0.55);
      g.append('line').attr('x1', lx + 1).attr('x2', lx + 21).attr('y1', gy + 12).attr('y2', gy + 12)
        .attr('stroke', colors[s].line).attr('stroke-width', 2);
      g.append('circle').attr('cx', lx + 11).attr('cy', gy + 12).attr('r', 3.7).attr('fill', colors[s].pt);
      g.append('text').attr('x', lx + 26).attr('y', gy + 17).attr('fill', '#222')
        .style('font-size', '14px').text(seriesNames[i]);
    });
  }
});
</script>
</body>
</html>
